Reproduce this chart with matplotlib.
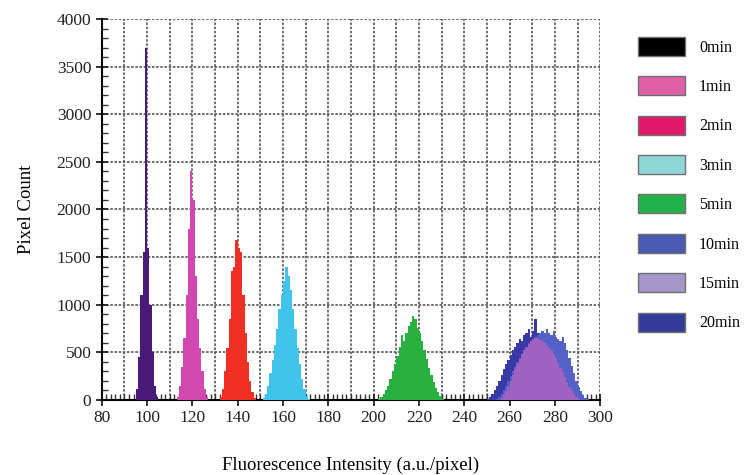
import matplotlib.pyplot as plt
import numpy as np
from matplotlib.patches import Patch

plt.rcParams['font.family'] = ['Liberation Serif', 'DejaVu Serif']

# Histogram data: first bin edge and counts per unit-width bin
start_0 = 95
counts_0 = [120, 450, 1100, 1550, 3700, 1600, 1000, 500, 150, 30]

start_1 = 113
counts_1 = [30, 150, 350, 650, 1100, 1800, 2400, 2100, 1300, 850, 550, 300, 120, 30]

start_2 = 132
counts_2 = [30, 120, 300, 550, 850, 1350, 1400, 1680, 1600, 1550, 1100, 700, 400, 200, 80, 20]

start_3 = 151
counts_3 = [20, 60, 150, 280, 420, 580, 750, 950, 1100, 1250, 1400, 1300, 1150, 950,
            750, 550, 380, 220, 110, 40, 10]

start_5 = 202
counts_5 = [10, 30, 60, 100, 150, 220, 300, 380, 460, 560, 680, 620, 700, 780, 820,
            880, 850, 760, 700, 620, 520, 430, 340, 260, 190, 130, 80, 40, 15]

start_20 = 250
counts_20 = [10, 30, 60, 100, 150, 200, 260, 330, 380, 420, 470, 520, 560, 600, 640,
             620, 680, 700, 740, 660, 720, 850, 700, 660, 620, 640, 580, 540, 500, 460,
             420, 370, 320, 270, 220, 170, 120, 80, 50, 20, 5]

start_10 = 254
counts_10 = [10, 30, 60, 100, 150, 200, 250, 300, 350, 400, 440, 480, 520, 560, 600,
             620, 640, 660, 680, 700, 720, 700, 740, 700, 680, 720, 660, 640, 620, 660,
             600, 520, 440, 360, 280, 200, 140, 90, 50, 25, 10]

start_15 = 256
counts_15 = [20, 50, 90, 140, 200, 260, 320, 380, 430, 480, 520, 560, 590, 620, 640,
             650, 640, 630, 620, 600, 580, 550, 520, 480, 440, 390, 340, 290, 240, 190,
             140, 100, 60, 30, 10]

labels = ['0min', '1min', '2min', '3min', '5min', '10min', '15min', '20min']
legend_colors = ['#000000', '#e060a8', '#e0186a', '#90d6d6', '#22b04a',
                 '#4a5ab0', '#a496c8', '#323c98']

fig = plt.figure(figsize=(7.54, 4.75), dpi=100)
ax = fig.add_axes([0.135, 0.158, 0.661, 0.802])

# draw order: overlapping late-time histograms last
series = [
    (start_0, counts_0, '#4a1a78'),
    (start_1, counts_1, '#d048b0'),
    (start_2, counts_2, '#f03020'),
    (start_3, counts_3, '#40c4ec'),
    (start_5, counts_5, '#28b040'),
    (start_20, counts_20, '#3838a8'),
    (start_10, counts_10, '#5462c8'),
    (start_15, counts_15, '#a062c0'),
]
for start, counts, color in series:
    edges = start + np.arange(len(counts) + 1)
    ax.stairs(counts, edges, fill=True, color=color, linewidth=0, zorder=3)

ax.set_xlim(80, 300)
ax.set_ylim(0, 4000)
ax.set_xticks(np.arange(80, 301, 20))
ax.set_xticks(np.arange(80, 301, 2), minor=True)
ax.set_yticks(np.arange(0, 4001, 500))
ax.set_yticks(np.arange(0, 4001, 100), minor=True)

# dotted grid every 10 units on x, 500 on y
for gx in np.arange(90, 301, 10):
    ax.axvline(gx, color='#505858', linestyle=(0, (1.5, 1)), linewidth=1.2, zorder=1)
for gy in np.arange(500, 4001, 500):
    ax.axhline(gy, color='#505858', linestyle=(0, (1.5, 1)), linewidth=1.2, zorder=1)

ax.spines['top'].set_visible(False)
ax.spines['right'].set_visible(False)
ax.spines['left'].set_linewidth(1.5)
ax.spines['bottom'].set_linewidth(1.5)
ax.tick_params(which='major', direction='inout', length=8, width=1.3, labelsize=12.5, colors='#222222')
ax.tick_params(which='minor', direction='in', length=4, width=1.0, colors='#333333')

ax.set_xlabel('Fluorescence Intensity (a.u./pixel)', fontsize=13.5, labelpad=22)
ax.set_ylabel('Pixel Count', fontsize=13.5, labelpad=16)

handles = [Patch(facecolor=c, edgecolor='#707070', linewidth=1.0) for c in legend_colors]
fig.legend(handles, labels, loc='upper left', bbox_to_anchor=(0.838, 0.936),
           frameon=False, fontsize=11.5, handlelength=2.9, handleheight=1.45,
           labelspacing=1.28, handletextpad=0.9, borderaxespad=0)

fig.savefig('out.png', dpi=100)
